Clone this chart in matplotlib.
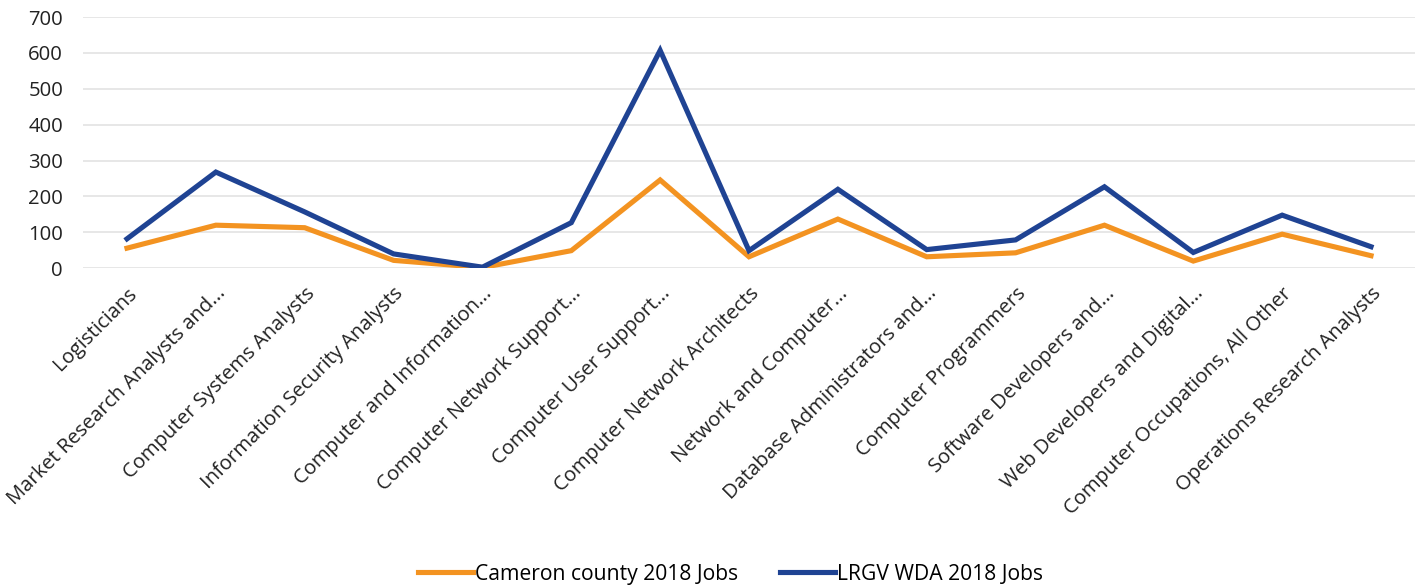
import matplotlib
matplotlib.use("Agg")
import matplotlib.pyplot as plt
import numpy as np

occupations = [
    "Logisticians",
    "Market Research Analysts and...",
    "Computer Systems Analysts",
    "Information Security Analysts",
    "Computer and Information...",
    "Computer Network Support...",
    "Computer User Support...",
    "Computer Network Architects",
    "Network and Computer...",
    "Database Administrators and...",
    "Computer Programmers",
    "Software Developers and...",
    "Web Developers and Digital...",
    "Computer Occupations, All Other",
    "Operations Research Analysts",
]
cameron_jobs = [56, 120, 113, 22, 2, 49, 246, 32, 137, 32, 43, 120, 20, 95, 35]
lrgv_jobs = [82, 268, 157, 40, 3, 127, 607, 49, 220, 52, 79, 227, 44, 148, 60]
y_ticks = [0, 100, 200, 300, 400, 500, 600, 700]

plt.rcParams["font.family"] = ["Open Sans", "DejaVu Sans"]
FS = 14.6

fig = plt.figure(figsize=(14.26, 5.87), dpi=100)
ax = fig.add_axes([0.0579, 0.543, 0.9347, 0.428])

x = np.arange(len(occupations))
ax.plot(x, cameron_jobs, color="#F39321", lw=3.7, solid_joinstyle="miter",
        label="Cameron county 2018 Jobs")
ax.plot(x, lrgv_jobs, color="#1F4393", lw=3.7, solid_joinstyle="miter",
        label="LRGV WDA 2018 Jobs")

ax.set_xlim(-0.5, len(occupations) - 0.5)
ax.set_ylim(0, 700)
ax.set_yticks(y_ticks)
ax.set_xticks(x)
ax.set_xticklabels(occupations, rotation=45, ha="right", rotation_mode="anchor",
                   fontsize=FS, color="#222222")
ax.tick_params(axis="y", labelsize=FS, labelcolor="#222222", length=0, pad=14)
ax.tick_params(axis="x", length=0, pad=11)
ax.grid(axis="y", color="#e3e3e3", lw=1.2)
ax.set_axisbelow(True)
for s in ax.spines.values():
    s.set_visible(False)

fig.legend(loc="center", bbox_to_anchor=(0.5125, 0.022), ncol=2, frameon=False,
           fontsize=15.2, handlelength=2.6, columnspacing=2.0, handletextpad=0.1)

fig.savefig("out.png", dpi=100)
